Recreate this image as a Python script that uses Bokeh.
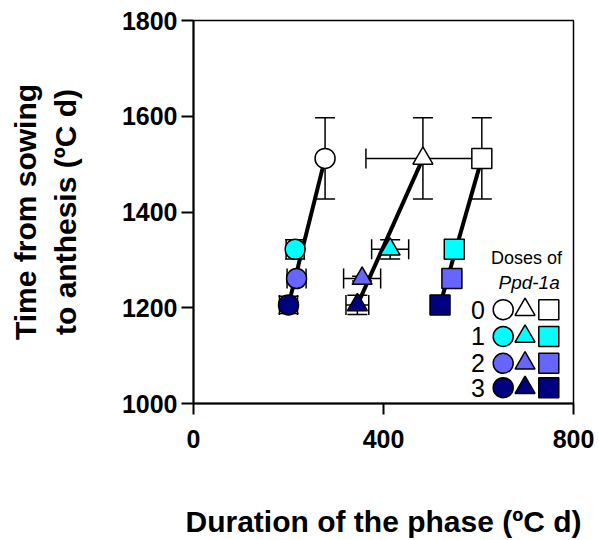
from bokeh.plotting import figure
from bokeh.models import ColumnDataSource, Whisker, TeeHead, FixedTicker, Range1d
from bokeh.core.properties import value
from bokeh.embed import file_html
from bokeh.resources import INLINE

# ---------------- data ----------------
doses = ["0", "1", "2", "3"]
dose_colors = ["white", "#00FFFF", "#6666FF", "#000080"]
time_to_anthesis = [1512, 1322, 1261, 1206]

circle_x = [277, 214, 217, 200]
circle_xerr = [0, 19, 20, 19]
circle_yerr = [85, 20, 8, 18]

triangle_x = [483, 414, 355, 345]
triangle_xerr = [120, 39, 39, 24]
triangle_yerr = [85, 20, 5, 20]

square_x = [607, 549, 544, 519]
square_xerr = [0, 0, 0, 0]
square_yerr = [85, 0, 0, 0]

x_ticks = [0, 400, 800]
y_ticks = [1000, 1200, 1400, 1600, 1800]

FONT = "Liberation Sans"

p = figure(width=599, height=540, output_backend="svg", toolbar_location=None,
           x_range=Range1d(0, 800), y_range=Range1d(1000, 1800),
           min_border_left=193, min_border_right=26, min_border_top=20,
           min_border_bottom=137)
p.grid.visible = False
p.outline_line_color = "black"
p.outline_line_width = 1.5
p.background_fill_color = "white"
p.border_fill_color = "white"

for ax in (p.xaxis[0], p.yaxis[0]):
    ax.axis_line_width = 2
    ax.major_tick_line_width = 2
    ax.major_tick_in = 0
    ax.minor_tick_line_color = None
    ax.major_label_text_font = FONT
    ax.major_label_text_font_style = "bold"
    ax.major_label_text_font_size = "25px"
    ax.major_label_text_color = "black"
    ax.axis_label_text_font = FONT
    ax.axis_label_text_font_style = "bold"
    ax.axis_label_text_font_size = "30px"
    ax.axis_label_text_color = "black"

p.xaxis.ticker = FixedTicker(ticks=x_ticks)
p.yaxis.ticker = FixedTicker(ticks=y_ticks)
p.xaxis.major_tick_out = 11
p.yaxis.major_tick_out = 12
p.xaxis.major_label_standoff = 15
p.yaxis.major_label_standoff = 4
p.xaxis.axis_label = "Duration of the phase (ºC d)"
p.yaxis.axis_label = "Time from sowing\nto anthesis (ºC d)"
p.xaxis.axis_label_standoff = 54
p.yaxis.axis_label_standoff = 37


def add_series(xs, xerr, yerr, marker):
    # line from dose 0 to dose 3
    p.line([xs[0], xs[3]], [time_to_anthesis[0], time_to_anthesis[3]],
           line_color="black", line_width=4)
    hx = [(x, y, e) for x, y, e in zip(xs, time_to_anthesis, xerr) if e > 0]
    if hx:
        src = ColumnDataSource(dict(base=[h[1] for h in hx],
                                    lower=[h[0] - h[2] for h in hx],
                                    upper=[h[0] + h[2] for h in hx]))
        w = Whisker(source=src, base="base", lower="lower", upper="upper",
                    dimension="width", line_width=1.5, line_color="black",
                    lower_head=TeeHead(size=20, line_width=1.5, line_color="black"),
                    upper_head=TeeHead(size=20, line_width=1.5, line_color="black"),
                    level="underlay")
        p.add_layout(w)
    vy = [(x, y, e) for x, y, e in zip(xs, time_to_anthesis, yerr) if e > 0]
    if vy:
        src = ColumnDataSource(dict(base=[v[0] for v in vy],
                                    lower=[v[1] - v[2] for v in vy],
                                    upper=[v[1] + v[2] for v in vy]))
        w = Whisker(source=src, base="base", lower="lower", upper="upper",
                    dimension="height", line_width=1.5, line_color="black",
                    lower_head=TeeHead(size=20, line_width=1.5, line_color="black"),
                    upper_head=TeeHead(size=20, line_width=1.5, line_color="black"),
                    level="underlay")
        p.add_layout(w)
    src = ColumnDataSource(dict(x=xs, y=time_to_anthesis, c=dose_colors))
    p.scatter("x", "y", source=src, marker=marker, size=20, fill_color="c",
              line_color="black", line_width=1.5)


add_series(circle_x, circle_xerr, circle_yerr, "circle")
add_series(triangle_x, triangle_xerr, triangle_yerr, "triangle")
add_series(square_x, square_xerr, square_yerr, "square")

# ---------------- legend (custom grid) ----------------
leg_digit_x = 599
leg_marker_cols = [652, 698, 748]
leg_rows_y = [1196, 1140, 1084, 1033]
leg_markers = ["circle", "triangle", "square"]

p.text(x=[776], y=[1303], text=["Doses of"], text_align="right",
       text_baseline="alphabetic", text_font=value(FONT), text_font_size="18px",
       text_color="black")
p.text(x=[771], y=[1253], text=["Ppd-1a"], text_align="right",
       text_baseline="alphabetic", text_font=value(FONT), text_font_size="19px",
       text_font_style="italic", text_color="black")
p.text(x=[leg_digit_x] * 4, y=leg_rows_y, text=doses, text_align="center",
       text_baseline="middle", text_font=value(FONT), text_font_size="25px",
       text_color="black")
for cx, mk in zip(leg_marker_cols, leg_markers):
    p.scatter([cx] * 4, leg_rows_y, marker=mk, size=20, fill_color=dose_colors,
              line_color="black", line_width=1.5)

open("out.html", "w").write(file_html(p, INLINE))
